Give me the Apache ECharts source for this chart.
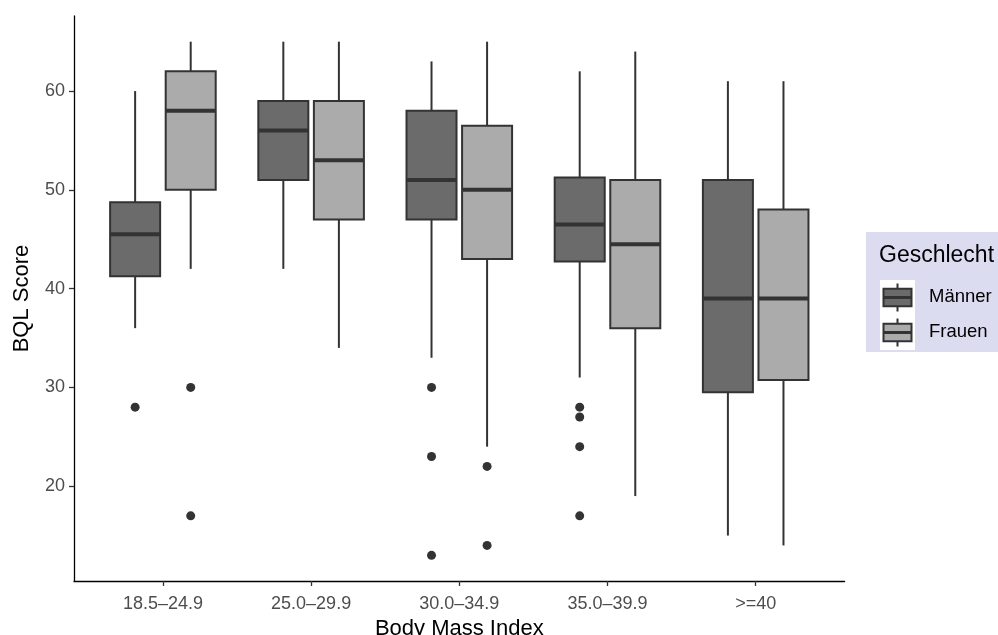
<!DOCTYPE html>
<html>
<head>
<meta charset="utf-8">
<script src="https://cdn.jsdelivr.net/npm/echarts@6/dist/echarts.min.js"></script>
<style>
html,body{margin:0;padding:0;background:#fff;}
#chart{width:998px;height:635px;}
</style>
</head>
<body>
<div id="chart"></div>
<script>
// ---- data ----
const categories = ['18.5–24.9', '25.0–29.9', '30.0–34.9', '35.0–39.9', '>=40'];
const groups = ['Männer', 'Frauen'];
// [lower whisker, Q1, median, Q3, upper whisker]
const maennerStats = [
  [36, 41.25, 45.5, 48.75, 60],
  [42, 51, 56, 59, 65],
  [33, 47, 51, 58, 63],
  [31, 42.75, 46.5, 51.25, 62],
  [15, 29.5, 39, 51, 61]
];
const frauenStats = [
  [42, 50, 58, 62, 65],
  [34, 47, 53, 59, 65],
  [24, 43, 50, 56.5, 65],
  [19, 36, 44.5, 51, 64],
  [14, 30.75, 39, 48, 61]
];
const maennerOutliers = [[28], [], [30, 23, 13], [28, 27, 24, 17], []];
const frauenOutliers = [[30, 17], [], [22, 14], [], []];
const yTicks = [20, 30, 40, 50, 60];

// ---- styling ----
const fills = ['#6b6b6b', '#ababab'];
const dark = '#333333';
const FONT = '"Liberation Sans", Arial, sans-serif';
const dodge = 0.1875;
const boxHalf = 0.16875;

const chart = echarts.init(document.getElementById('chart'), null, {renderer: 'canvas'});

function boxData(stats) {
  return stats.map((s, i) => [i + 1, s[0], s[1], s[2], s[3], s[4]]);
}
function outlierData(outs, off) {
  const res = [];
  outs.forEach((arr, i) => arr.forEach(v => res.push([i + 1 + off, v])));
  return res;
}

function makeRender(off, fill) {
  return function (params, api) {
    const x = api.value(0) + off;
    const lo = api.value(1), q1 = api.value(2), med = api.value(3), q3 = api.value(4), hi = api.value(5);
    const pLoL = api.coord([x - boxHalf, q1]);
    const pHiR = api.coord([x + boxHalf, q3]);
    const c = api.coord([x, med]);
    const pLo = api.coord([x, lo]);
    const pHi = api.coord([x, hi]);
    const pQ1 = api.coord([x, q1]);
    const pQ3 = api.coord([x, q3]);
    const left = pLoL[0], right = pHiR[0];
    return {
      type: 'group',
      children: [
        {type: 'line', shape: {x1: pHi[0], y1: pHi[1], x2: pQ3[0], y2: pQ3[1]}, style: {stroke: dark, lineWidth: 2}},
        {type: 'line', shape: {x1: pQ1[0], y1: pQ1[1], x2: pLo[0], y2: pLo[1]}, style: {stroke: dark, lineWidth: 2}},
        {type: 'rect', shape: {x: left, y: pHiR[1], width: right - left, height: pLoL[1] - pHiR[1]},
          style: {fill: fill, stroke: dark, lineWidth: 2}},
        {type: 'line', shape: {x1: left, y1: c[1], x2: right, y2: c[1]}, style: {stroke: dark, lineWidth: 4}}
      ]
    };
  };
}

// legend graphic (ggplot-style key boxes)
const keyX = 880, keyY = 280, keySize = 35;
const legendGraphic = [
  {type: 'rect', left: 866, top: 232, shape: {width: 140, height: 120}, style: {fill: '#dcdcf0'}, silent: true},
  {type: 'text', left: 879, top: 244, style: {text: 'Geschlecht', font: '23px ' + FONT, fill: '#000'}},
  {type: 'rect', left: keyX, top: keyY, shape: {width: keySize, height: keySize * 2}, style: {fill: '#ffffff'}}
];
groups.forEach((g, i) => {
  const y0 = keyY + i * keySize;
  const cx = keyX + keySize / 2;
  legendGraphic.push(
    {type: 'line', shape: {x1: cx, y1: y0 + keySize * 0.1, x2: cx, y2: y0 + keySize * 0.9}, style: {stroke: dark, lineWidth: 2}},
    {type: 'rect', shape: {x: keyX + keySize * 0.1, y: y0 + keySize * 0.25, width: keySize * 0.8, height: keySize * 0.5},
      style: {fill: fills[i], stroke: dark, lineWidth: 2}},
    {type: 'line', shape: {x1: keyX + keySize * 0.1, y1: y0 + keySize / 2, x2: keyX + keySize * 0.9, y2: y0 + keySize / 2},
      style: {stroke: dark, lineWidth: 3}},
    {type: 'text', left: 929, top: y0 + keySize / 2 - 10, style: {text: g, font: '18.5px ' + FONT, fill: '#000'}}
  );
});

const option = {
  animation: false,
  backgroundColor: '#ffffff',
  textStyle: {fontFamily: FONT},
  grid: {left: 74, right: 153.4, top: 16, bottom: 54, containLabel: false, outerBoundsMode: 'none'},
  xAxis: {
    type: 'value', min: 0.4, max: 5.6,
    splitLine: {show: false},
    axisLine: {show: true, onZero: false, lineStyle: {color: '#000', width: 1.3}},
    axisTick: {show: true, customValues: [1, 2, 3, 4, 5], length: 5, lineStyle: {color: '#333', width: 1.3}},
    axisLabel: {customValues: [1, 2, 3, 4, 5], formatter: v => categories[Math.round(v) - 1], color: '#4d4d4d', fontSize: 18, margin: 14},
    name: 'Body Mass Index', nameLocation: 'middle', nameGap: 35,
    nameTextStyle: {fontSize: 22, color: '#000'}
  },
  yAxis: {
    type: 'value', min: 10.4, max: 67.6,
    splitLine: {show: false},
    axisLine: {show: true, onZero: false, lineStyle: {color: '#000', width: 1.3}},
    axisTick: {show: true, customValues: yTicks, length: 5, lineStyle: {color: '#333', width: 1.3}},
    axisLabel: {customValues: yTicks, color: '#4d4d4d', fontSize: 18, margin: 9},
    name: 'BQL Score', nameLocation: 'middle', nameGap: 41,
    nameTextStyle: {fontSize: 22, color: '#000'}
  },
  series: [
    {name: groups[0], type: 'custom', renderItem: makeRender(-dodge, fills[0]), data: boxData(maennerStats),
      encode: {x: 0, y: [1, 2, 3, 4, 5]}, clip: false, z: 2},
    {name: groups[1], type: 'custom', renderItem: makeRender(dodge, fills[1]), data: boxData(frauenStats),
      encode: {x: 0, y: [1, 2, 3, 4, 5]}, clip: false, z: 2},
    {type: 'scatter', data: outlierData(maennerOutliers, -dodge), symbolSize: 9,
      itemStyle: {color: dark, opacity: 1}, z: 3},
    {type: 'scatter', data: outlierData(frauenOutliers, dodge), symbolSize: 9,
      itemStyle: {color: dark, opacity: 1}, z: 3}
  ],
  graphic: legendGraphic
};
chart.setOption(option);
</script>
</body>
</html>
